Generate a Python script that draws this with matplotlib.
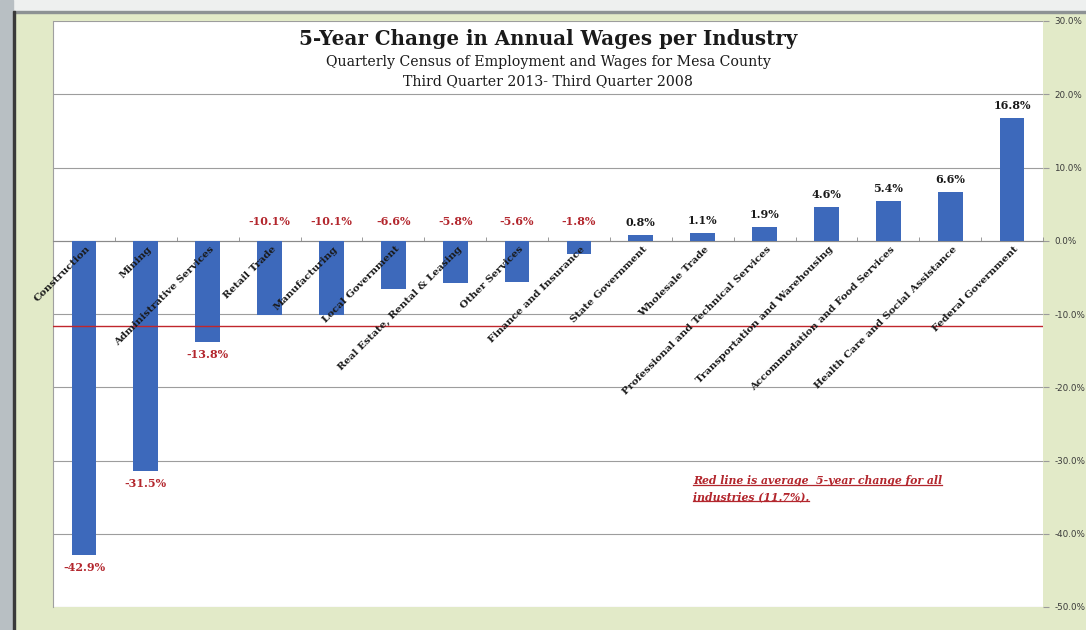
import numpy as np
import matplotlib.pyplot as plt
from matplotlib.patches import Rectangle
from matplotlib.lines import Line2D

industries = [
    "Construction", "Mining", "Administrative Services", "Retail Trade",
    "Manufacturing", "Local Government", "Real Estate, Rental & Leasing",
    "Other Services", "Finance and Insurance", "State Government",
    "Wholesale Trade", "Professional and Technical Services",
    "Transportation and Warehousing", "Accommodation and Food Services",
    "Health Care and Social Assistance", "Federal Government",
]
wage_change = [-42.9, -31.5, -13.8, -10.1, -10.1, -6.6, -5.8, -5.6, -1.8,
               0.8, 1.1, 1.9, 4.6, 5.4, 6.6, 16.8]
avg_change = -11.7
y_ticks = [-50, -40, -30, -20, -10, 0, 10, 20, 30]

bar_blue = "#3d69bb"
label_red = "#b3262d"
paper_green = "#e2eac8"
serif = "DejaVu Serif"

W, H = 1086, 630
fig = plt.figure(figsize=(W / 100, H / 100), dpi=100, facecolor=paper_green)


def px_rect(x0, y0, x1, y1, color):
    # rectangle given in pixel coordinates from the top-left corner
    fig.patches.append(Rectangle((x0 / W, 1 - y1 / H), (x1 - x0) / W, (y1 - y0) / H,
                                 transform=fig.transFigure, color=color, zorder=0))


# scanner margins around the printed page
px_rect(0, 0, W, 11, "#eef0ef")
px_rect(0, 11, W, 13, "#8d9294")
px_rect(0, 0, 13, H, "#b8bfc3")
px_rect(13, 11, 15, H, "#3a3a3a")

ax = fig.add_axes([53 / W, 1 - 607 / H, (1043 - 53) / W, (607 - 21) / H])
ax.set_facecolor("white")

x = np.arange(len(industries))
ax.bar(x, wage_change, width=0.4, color=bar_blue, zorder=3)
ax.axhline(avg_change, color="#c0262c", lw=1.0, zorder=4)

ax.set_xlim(-0.5, len(industries) - 0.5)
ax.set_ylim(-50, 30)
ax.yaxis.tick_right()
ax.set_yticks(y_ticks)
ax.yaxis.set_major_formatter(lambda v, p: f"{v:.1f}%")
ax.tick_params(axis="y", length=4, color="#9a9a9a", labelsize=6.3, labelcolor="#3a3a3a", pad=4)
ax.grid(axis="y", color="#9d9d9d", lw=0.8, zorder=0)

# category axis sits on the zero line with small ticks between bars
ax.spines["bottom"].set_position(("data", 0))
ax.spines["bottom"].set_color("#8a8a8a")
ax.set_xticks([])
ax.set_xticks(np.arange(-0.5, len(industries), 1), minor=True)
ax.tick_params(axis="x", which="minor", direction="in", length=3, color="#8a8a8a")
ax.spines["top"].set_visible(False)
ax.spines["right"].set_visible(False)
ax.spines["left"].set_color("#a0a0a0")

for xi, name in zip(x, industries):
    ax.text(xi + 0.03, -0.5, name, rotation=45, rotation_mode="anchor",
            ha="right", va="top", fontsize=7.4, fontweight="bold", family=serif,
            color="#1a1a1a", zorder=5)

for xi, v in zip(x, wage_change):
    txt = f"{v:.1f}%"
    if v >= 0:
        ax.annotate(txt, (xi, v), xytext=(0, 5), textcoords="offset points",
                    ha="center", va="bottom", fontsize=8, fontweight="bold",
                    family=serif, color="#1a1a1a")
    elif v > avg_change:
        ax.annotate(txt, (xi, 0), xytext=(0, 10), textcoords="offset points",
                    ha="center", va="bottom", fontsize=8, fontweight="bold",
                    family=serif, color=label_red)
    else:
        ax.annotate(txt, (xi, v), xytext=(0, -5), textcoords="offset points",
                    ha="center", va="top", fontsize=8, fontweight="bold",
                    family=serif, color=label_red)

ax.text(0.5, 0.969, "5-Year Change in Annual Wages per Industry", transform=ax.transAxes,
        ha="center", va="center", fontsize=14.3, fontweight="bold", family=serif,
        color="#1a1a1a")
ax.text(0.5, 0.930, "Quarterly Census of Employment and Wages for Mesa County",
        transform=ax.transAxes, ha="center", va="center", fontsize=10.2, family=serif,
        color="#1a1a1a")
ax.text(0.5, 0.898, "Third Quarter 2013- Third Quarter 2008",
        transform=ax.transAxes, ha="center", va="center", fontsize=10.2, family=serif,
        color="#1a1a1a")

note_lines = ["Red line is average  5-year change for all", "industries (11.7%)."]
note_texts = []
for i, line in enumerate(note_lines):
    t = ax.text(9.84, -32.7 - i * 2.2, line, ha="left", va="center", fontsize=7.8,
                fontweight="bold", style="italic", family=serif, color=label_red)
    note_texts.append(t)

# underline the note
fig.canvas.draw()
renderer = fig.canvas.get_renderer()
for t in note_texts:
    bb = t.get_window_extent(renderer).transformed(fig.transFigure.inverted())
    fig.lines.append(Line2D([bb.x0, bb.x1], [bb.y0 + 0.002, bb.y0 + 0.002],
                            transform=fig.transFigure, color=label_red, lw=0.9))

fig.savefig("out.png", dpi=100, facecolor=fig.get_facecolor())
